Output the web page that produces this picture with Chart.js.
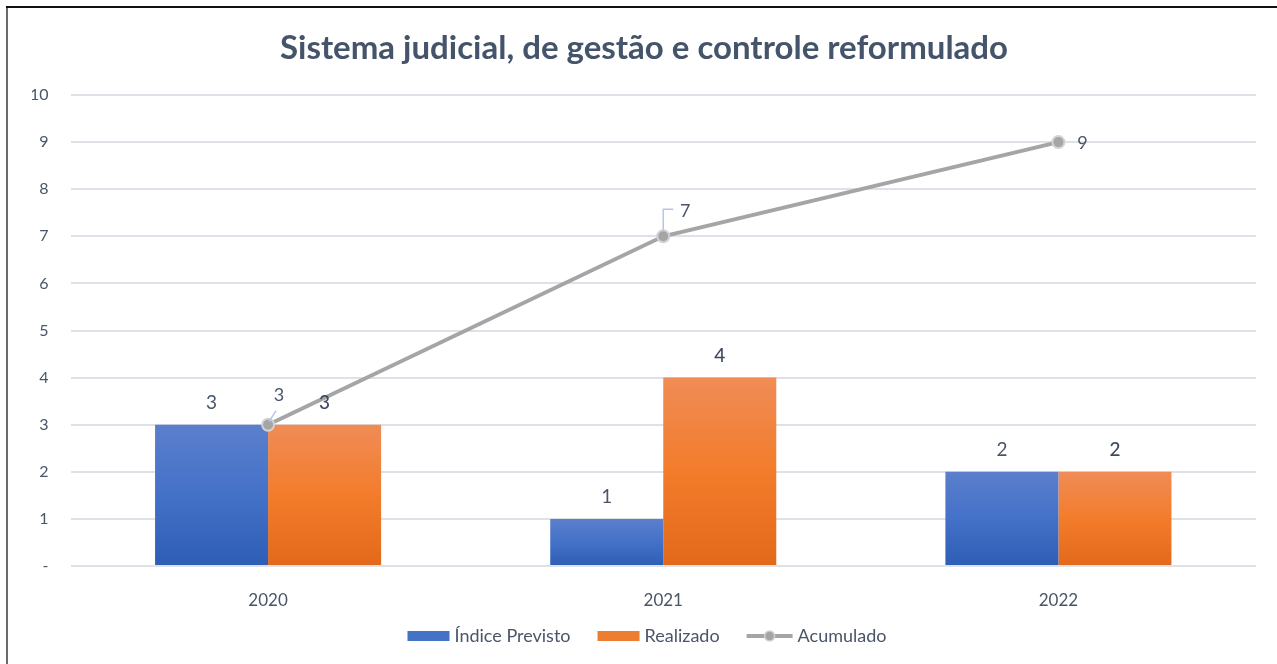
<!DOCTYPE html>
<html>
<head>
<meta charset="utf-8">
<script src="https://cdn.jsdelivr.net/npm/chart.js@4.4.1/dist/chart.umd.min.js"></script>
<style>
html,body{margin:0;padding:0;background:#fff;}
#wrap{position:absolute;left:0;top:0;width:1277px;height:664px;}
</style>
</head>
<body>
<div id="wrap"><canvas id="c" width="1277" height="664"></canvas></div>
<script>
const categories = ['2020', '2021', '2022'];
const previsto = [3, 1, 2];
const realizado = [3, 4, 2];
const acumulado = [3, 7, 9];
const yTicks = [0, 1, 2, 3, 4, 5, 6, 7, 8, 9, 10];
const seriesNames = ['Índice Previsto', 'Realizado', 'Acumulado'];
const chartTitle = 'Sistema judicial, de gestão e controle reformulado';

const FONT = 'Lato, "Open Sans", sans-serif';
const TEXT = '#4A5568';

function barGradient(ctx, top, bottom) {
  const chart = ctx.chart;
  const y = chart.scales && chart.scales.y;
  if (!y || !chart.chartArea) return top[1];
  const v = ctx.raw;
  const y0 = y.getPixelForValue(v);
  const y1 = y.getPixelForValue(0);
  const g = chart.ctx.createLinearGradient(0, y0, 0, y1);
  g.addColorStop(0, top[0]);
  g.addColorStop(0.5, top[1]);
  g.addColorStop(1, bottom);
  return g;
}

const framePlugin = {
  id: 'frame',
  beforeDraw(chart) {
    const c = chart.ctx;
    c.save();
    c.fillStyle = '#fff';
    c.fillRect(0, 0, chart.width, chart.height);
    c.strokeStyle = '#6b6b6b';
    c.lineWidth = 2;
    c.beginPath(); c.moveTo(7, 7); c.lineTo(7, chart.height); c.stroke();
    c.strokeStyle = '#111';
    c.beginPath(); c.moveTo(6, 7); c.lineTo(chart.width, 7); c.stroke();
    c.restore();
  }
};

const labelPlugin = {
  id: 'valueLabels',
  afterDatasetsDraw(chart) {
    const c = chart.ctx;
    c.save();
    c.textAlign = 'center';
    c.textBaseline = 'middle';
    [1, 2].forEach(di => {
      const meta = chart.getDatasetMeta(di);
      const ds = chart.data.datasets[di];
      meta.data.forEach((el, i) => {
        c.font = (di === 2 ? '500 ' : '') + '19px ' + FONT;
        c.fillStyle = di === 2 ? '#3F4A5C' : TEXT;
        c.fillText(String(ds.data[i]), el.x, el.y - 22);
      });
    });
    const lm = chart.getDatasetMeta(0);
    const lds = chart.data.datasets[0];
    c.font = '18px ' + FONT;
    c.fillStyle = TEXT;
    lm.data.forEach((el, i) => {
      const x = el.x, y = el.y;
      c.strokeStyle = '#B4C7E7';
      c.lineWidth = 1.5;
      if (i === 0) {
        c.beginPath(); c.moveTo(x + 1, y - 3); c.lineTo(x + 8, y - 14); c.stroke();
        c.fillText(String(lds.data[i]), x + 11, y - 30);
      } else if (i === 1) {
        c.beginPath(); c.moveTo(x, y - 6); c.lineTo(x, y - 27); c.lineTo(x + 10, y - 27); c.stroke();
        c.fillText(String(lds.data[i]), x + 22, y - 25);
      } else {
        c.fillText(String(lds.data[i]), x + 24, y + 1);
      }
    });
    c.restore();
  }
};

const legendPlugin = {
  id: 'customLegend',
  afterDraw(chart) {
    const c = chart.ctx;
    c.save();
    c.font = '18px ' + FONT;
    c.textBaseline = 'middle';
    const y = 636;
    const items = [
      { name: seriesNames[0], type: 'bar', color: '#4472C4' },
      { name: seriesNames[1], type: 'bar', color: '#ED7D31' },
      { name: seriesNames[2], type: 'line', color: '#A5A5A5' }
    ];
    const boxW = 42, gap = 5, spacing = 27;
    let total = 0;
    items.forEach((it, i) => {
      it.w = (it.type === 'bar' ? boxW : 46) + gap + c.measureText(it.name).width;
      total += it.w + (i ? spacing : 0);
    });
    let x = 647 - total / 2;
    items.forEach(it => {
      if (it.type === 'bar') {
        c.fillStyle = it.color;
        c.fillRect(x, y - 5, boxW, 10);
        x += boxW + gap;
      } else {
        c.strokeStyle = it.color;
        c.lineWidth = 4;
        c.beginPath(); c.moveTo(x, y); c.lineTo(x + 46, y); c.stroke();
        c.beginPath(); c.arc(x + 23, y, 5, 0, Math.PI * 2);
        c.fillStyle = '#A5A5A5'; c.fill();
        c.lineWidth = 1.5; c.strokeStyle = '#D0D0D0'; c.stroke();
        x += 46 + gap;
      }
      c.fillStyle = TEXT;
      c.fillText(it.name, x, y);
      x += c.measureText(it.name).width + spacing;
    });
    c.restore();
  }
};

new Chart(document.getElementById('c'), {
  data: {
    labels: categories,
    datasets: [
      {
        type: 'line',
        label: seriesNames[2],
        data: acumulado,
        borderColor: '#A5A5A5',
        borderWidth: 4,
        pointRadius: 6,
        pointBackgroundColor: '#A5A5A5',
        pointBorderColor: '#D2D2D2',
        pointBorderWidth: 2,
        tension: 0,
        order: 0
      },
      {
        type: 'bar',
        label: seriesNames[0],
        data: previsto,
        backgroundColor: ctx => barGradient(ctx, ['#5B7FCC', '#4471C8'], '#2E5DB5'),
        barPercentage: 1,
        categoryPercentage: 0.572,
        order: 1
      },
      {
        type: 'bar',
        label: seriesNames[1],
        data: realizado,
        backgroundColor: ctx => barGradient(ctx, ['#F08C56', '#F37C2B'], '#E2691A'),
        barPercentage: 1,
        categoryPercentage: 0.572,
        order: 1
      }
    ]
  },
  options: {
    responsive: false,
    animation: false,
    events: [],
    layout: { padding: { top: 11, left: 32, right: 21, bottom: 0 } },
    plugins: {
      legend: { display: false },
      tooltip: { enabled: false },
      title: {
        display: true,
        text: chartTitle,
        color: '#44546A',
        font: { family: FONT, size: 33, weight: 'bold', lineHeight: 1.2 },
        padding: { top: 18, bottom: 26.4 }
      }
    },
    scales: {
      x: {
        grid: { display: false },
        border: { display: false },
        ticks: { color: TEXT, font: { family: FONT, size: 17 }, padding: 16 },
        afterFit(scale) { scale.height = 98; }
      },
      y: {
        min: 0,
        max: 10,
        afterBuildTicks(scale) { scale.ticks = yTicks.map(v => ({ value: v })); },
        grid: { color: '#DDE1E8', lineWidth: 2, drawTicks: false },
        border: { display: false },
        ticks: {
          color: TEXT,
          font: { family: FONT, size: 16 },
          padding: 22,
          callback: v => (v === 0 ? '-' : String(v))
        },
        afterFit(scale) { scale.width = 38.5; }
      }
    }
  },
  plugins: [framePlugin, labelPlugin, legendPlugin]
});
</script>
</body>
</html>
